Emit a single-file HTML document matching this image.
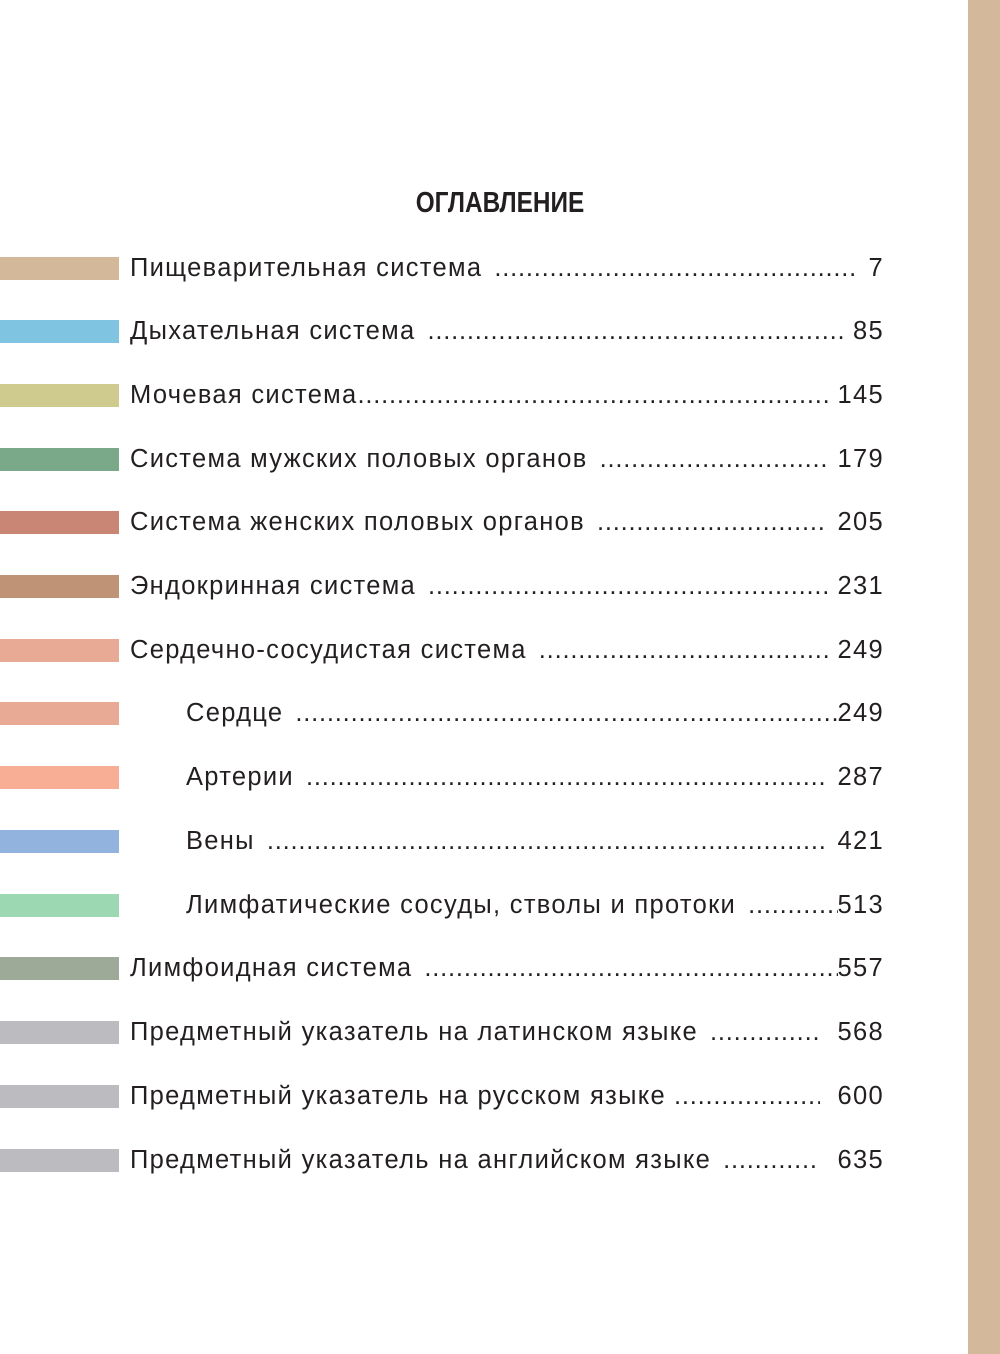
<!DOCTYPE html>
<html><head><meta charset="utf-8"><style>
html,body{margin:0;padding:0;background:#fff}
body{width:1000px;height:1354px;position:relative;overflow:hidden;font-family:"Liberation Sans",sans-serif;color:#231f20}
.strip{position:absolute;left:968px;top:0;width:32px;height:1354px;background:#d4b89b}
h1{position:absolute;top:187px;left:0;width:1000px;text-align:center;margin:0;font-size:29px;font-weight:bold;transform:scaleX(0.84);transform-origin:500px 0}
.bar{position:absolute;left:0;width:119px;height:23px}
.row{position:absolute;left:130px;width:754px;display:flex;font-size:25.5px;line-height:30px;white-space:nowrap;letter-spacing:1.3px}
.row .d{flex:1;overflow:hidden;margin:0 10px 0 12px;letter-spacing:0.8px}
.row.i{left:186px;width:698px}
</style></head><body>
<div class="strip"></div>
<h1>ОГЛАВЛЕНИЕ</h1>
<div class="bar" style="top:257px;background:#d3b89a"></div>
<div class="bar" style="top:320px;background:#7fc4e0"></div>
<div class="bar" style="top:384px;background:#cfcb8e"></div>
<div class="bar" style="top:448px;background:#7aa98a"></div>
<div class="bar" style="top:511px;background:#c98675"></div>
<div class="bar" style="top:575px;background:#bf9476"></div>
<div class="bar" style="top:639px;background:#e8aa94"></div>
<div class="bar" style="top:702px;background:#e8aa94"></div>
<div class="bar" style="top:766px;background:#f8ae95"></div>
<div class="bar" style="top:830px;background:#93b3df"></div>
<div class="bar" style="top:894px;background:#9cd8b2"></div>
<div class="bar" style="top:957px;background:#9daa98"></div>
<div class="bar" style="top:1021px;background:#bcbcc0"></div>
<div class="bar" style="top:1085px;background:#bcbcc0"></div>
<div class="bar" style="top:1149px;background:#bcbcc0"></div>

<div class="row" style="top:253px"><span>Пищеварительная система</span><span class="d">....................................................................................................</span><span>7</span></div>
<div class="row" style="top:316px"><span>Дыхательная система</span><span class="d">....................................................................................................</span><span>85</span></div>
<div class="row" style="top:380px"><span>Мочевая система</span><span class="d" style="margin-left:0">....................................................................................................</span><span>145</span></div>
<div class="row" style="top:444px"><span>Система мужских половых органов</span><span class="d">....................................................................................................</span><span>179</span></div>
<div class="row" style="top:507px"><span>Система женских половых органов</span><span class="d">....................................................................................................</span><span>205</span></div>
<div class="row" style="top:571px"><span>Эндокринная система</span><span class="d">....................................................................................................</span><span>231</span></div>
<div class="row" style="top:635px"><span>Сердечно-сосудистая система</span><span class="d">....................................................................................................</span><span>249</span></div>
<div class="row i" style="top:698px"><span>Сердце</span><span class="d" style="margin-right:0">....................................................................................................</span><span>249</span></div>
<div class="row i" style="top:762px"><span>Артерии</span><span class="d">....................................................................................................</span><span>287</span></div>
<div class="row i" style="top:826px"><span>Вены</span><span class="d">....................................................................................................</span><span>421</span></div>
<div class="row i" style="top:890px"><span>Лимфатические сосуды, стволы и протоки</span><span class="d" style="margin-right:0">....................................................................................................</span><span>513</span></div>
<div class="row" style="top:953px"><span>Лимфоидная система</span><span class="d" style="margin-right:0">....................................................................................................</span><span>557</span></div>
<div class="row" style="top:1017px"><span>Предметный указатель на латинском языке</span><span class="d" style="margin-right:18px">....................................................................................................</span><span>568</span></div>
<div class="row" style="top:1081px"><span>Предметный указатель на русском языке</span><span class="d" style="margin-right:18px;margin-left:8px">....................................................................................................</span><span>600</span></div>
<div class="row" style="top:1145px"><span>Предметный указатель на английском языке</span><span class="d" style="margin-right:18px">....................................................................................................</span><span>635</span></div>
</body></html>
